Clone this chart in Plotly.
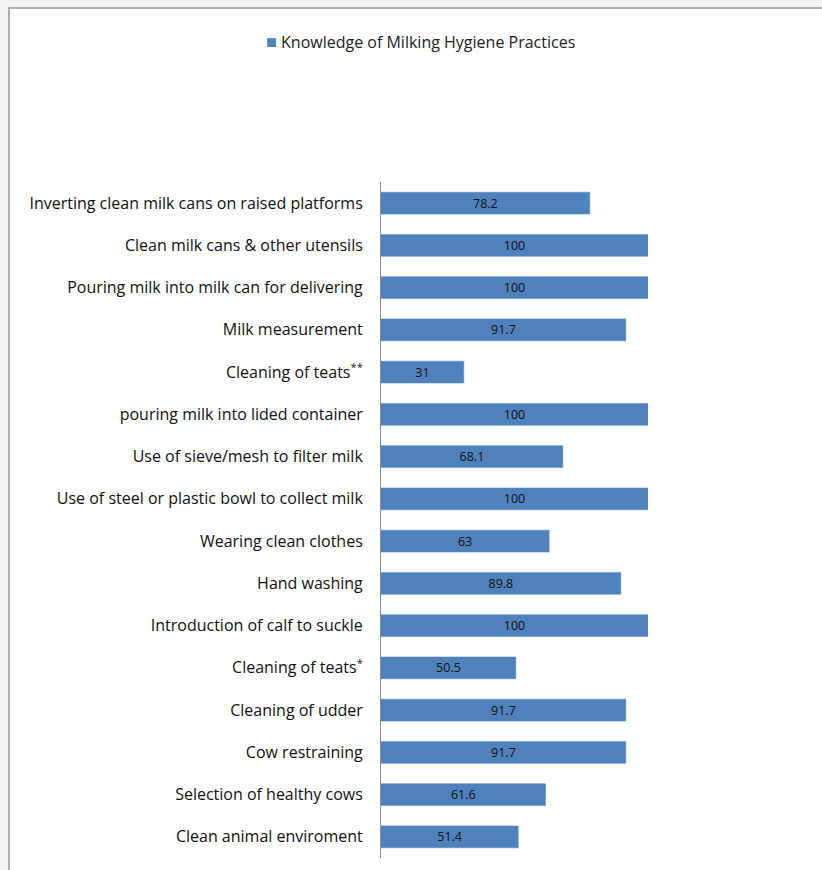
import plotly.graph_objects as go

categories = [
    "Inverting clean milk cans on raised platforms",
    "Clean milk cans & other utensils",
    "Pouring milk into milk can for delivering",
    "Milk measurement",
    "Cleaning of teats<sup>**</sup>",
    "pouring milk into lided container",
    "Use of sieve/mesh to filter milk",
    "Use of steel or plastic bowl to collect milk",
    "Wearing clean clothes",
    "Hand washing",
    "Introduction of calf to suckle",
    "Cleaning of teats<sup>*</sup>",
    "Cleaning of udder",
    "Cow restraining",
    "Selection of healthy cows",
    "Clean animal enviroment",
]
values = [78.2, 100, 100, 91.7, 31, 100, 68.1, 100, 63, 89.8, 100, 50.5, 91.7, 91.7, 61.6, 51.4]
series_name = "Knowledge of Milking Hygiene Practices"
bar_color = "#4f81bd"

W, H = 822, 870
L, R, T, B = 381, 648, 182, 858
FONT = "Open Sans, Liberation Sans, Arial, sans-serif"

fig = go.Figure(go.Bar(
    y=categories, x=values, orientation="h",
    name=series_name,
    marker=dict(color=bar_color, line=dict(color="#5a8ac6", width=0.5)),
    width=0.52,
    texttemplate="%{x}", textposition="inside", insidetextanchor="middle",
    textangle=0, constraintext="none",
    textfont=dict(family=FONT, size=12.5, color="#111111"),
    showlegend=False,
))

def px2x(px):
    return (px - L) / (R - L)

def px2y(py):
    return (B - py) / (B - T)

fig.update_layout(
    width=W, height=H,
    margin=dict(l=L, r=W - R, t=T, b=H - B, pad=0),
    paper_bgcolor="#f1f2f4",
    plot_bgcolor="rgba(0,0,0,0)",
    font=dict(family=FONT, size=16, color="#111111"),
    xaxis=dict(range=[0, 100], showticklabels=False, showgrid=False, zeroline=False,
               showline=False, ticks=""),
    yaxis=dict(autorange="reversed", showgrid=False, zeroline=False, showline=True,
               linecolor="#8c8c8c", linewidth=1, ticks="", ticklabelstandoff=14,
               tickfont=dict(family=FONT, size=16, color="#111111")),
    bargap=0.48,
    annotations=[dict(
        xref="paper", yref="paper", x=px2x(264), y=px2y(41), xanchor="left", yanchor="middle",
        text=f"<span style='color:{bar_color};font-size:18px'>■</span> {series_name}",
        showarrow=False, font=dict(family=FONT, size=16, color="#222222"),
    )],
    shapes=[dict(type="rect", xref="paper", yref="paper", layer="below",
                 x0=px2x(9), x1=px2x(840), y0=px2y(8), y1=px2y(890),
                 fillcolor="white", line=dict(color="#9a9a9a", width=1.5))],
)

fig.write_html("out.html")
